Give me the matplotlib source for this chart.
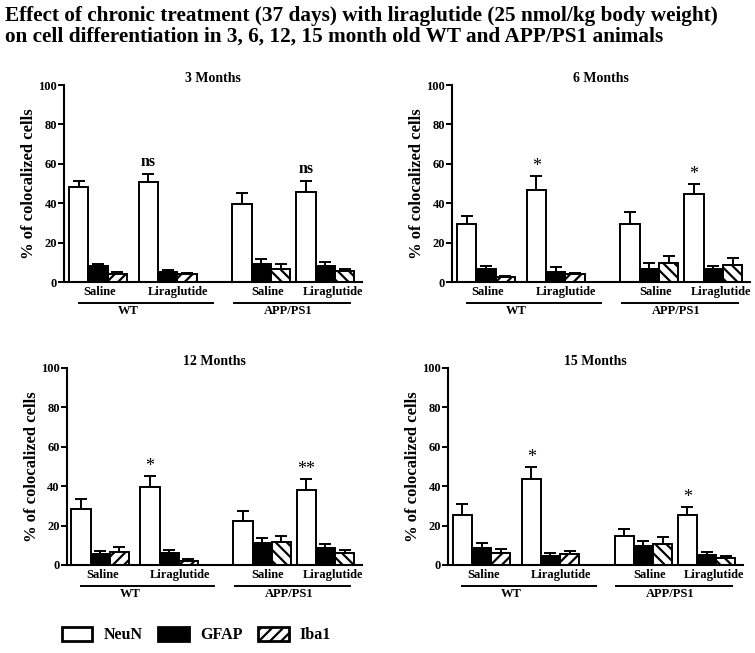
import matplotlib
matplotlib.use("Agg")
import matplotlib.pyplot as plt
from matplotlib.patches import Patch
import numpy as np

plt.rcParams['font.family'] = ['Liberation Serif', 'DejaVu Serif']
plt.rcParams['hatch.linewidth'] = 1.6

panel_titles = ["3 Months", "6 Months", "12 Months", "15 Months"]
group_labels = ["Saline", "Liraglutide", "Saline", "Liraglutide"]
genotypes = ["WT", "APP/PS1"]
series_names = ["NeuN", "GFAP", "Iba1"]

# values per panel: [WT Saline, WT Liraglutide, APP Saline, APP Liraglutide]
neun_mean = [[48.0, 50.8, 39.7, 45.9],
             [29.6, 46.8, 29.7, 44.8],
             [28.6, 39.8, 22.3, 38.2],
             [25.3, 43.6, 14.5, 25.3]]
neun_err = [[3.3, 3.9, 5.4, 5.5],
            [4.0, 7.1, 5.6, 5.0],
            [4.9, 5.2, 5.1, 5.5],
            [5.5, 5.9, 3.9, 4.0]]
gfap_mean = [[7.9, 5.0, 9.3, 8.3],
             [6.6, 5.2, 6.8, 6.6],
             [5.4, 5.9, 11.2, 8.5],
             [8.6, 4.7, 9.4, 5.1]]
gfap_err = [[1.5, 0.9, 2.4, 2.0],
            [1.3, 2.4, 3.0, 1.7],
            [1.9, 1.9, 2.5, 2.2],
            [2.5, 1.4, 2.9, 1.3]]
iba1_mean = [[4.2, 4.0, 6.6, 5.4],
             [2.5, 3.9, 9.6, 8.8],
             [6.8, 2.2, 11.7, 6.3],
             [6.2, 5.4, 10.4, 3.4]]
iba1_err = [[0.7, 0.7, 2.7, 1.4],
            [0.7, 0.7, 3.7, 3.2],
            [2.3, 0.8, 2.9, 1.5],
            [1.9, 1.5, 3.9, 1.3]]
signif = [["", "ns", "", "ns"],
          ["", "*", "", "*"],
          ["", "*", "", "**"],
          ["", "*", "", "*"]]
y_ticks = [0, 20, 40, 60, 80, 100]

fig = plt.figure(figsize=(7.55, 6.53), dpi=100)

axes_rects = [
    [0.0848, 0.5681, 0.3947, 0.3017],
    [0.5987, 0.5681, 0.3947, 0.3017],
    [0.0883, 0.1348, 0.3910, 0.3017],
    [0.5934, 0.1348, 0.3907, 0.3017],
]

group_left = np.array([0.25, 3.85, 8.7, 12.0])
label_pos = [1.85, 5.9, 10.5, 13.9]
bw = 1.0
fs = 9

for p in range(4):
    ax = fig.add_axes(axes_rects[p])
    series = [(neun_mean[p], neun_err[p]), (gfap_mean[p], gfap_err[p]), (iba1_mean[p], iba1_err[p])]
    for gi in range(4):
        for si, (m, e) in enumerate(series):
            x = group_left[gi] + 0.5 + si
            if si == 0:
                fc, hatch = 'white', None
            elif si == 1:
                fc, hatch = 'black', None
            else:
                fc = 'white'
                hatch = '///' if gi < 2 else '\\\\\\'
            ax.bar(x, m[gi], width=bw, color=fc, edgecolor='black', linewidth=1.4,
                   hatch=hatch, zorder=2)
            ax.errorbar(x, m[gi], yerr=[[0], [e[gi]]], fmt='none', ecolor='black',
                        elinewidth=1.4, capsize=4, capthick=1.4, zorder=1)
        s = signif[p][gi]
        if s:
            top = neun_mean[p][gi] + neun_err[p][gi]
            x0 = group_left[gi] + 0.5
            if s == 'ns':
                ax.text(x0, top + 2.0, s, ha='center', va='bottom', fontsize=11.5, fontweight='bold')
            else:
                ax.text(x0, top + 0.5, s, ha='center', va='bottom', fontsize=13)
    ax.set_xlim(0, 15.4)
    ax.set_ylim(0, 100)
    ax.set_yticks(y_ticks)
    ax.set_yticklabels([str(t) for t in y_ticks], fontsize=fs, fontweight='bold')
    ax.set_xticks(label_pos)
    ax.set_xticklabels(group_labels, fontsize=fs, fontweight='bold')
    ax.tick_params(axis='x', length=0, pad=3)
    ax.tick_params(axis='y', length=4, width=1.4, direction='out', pad=1)
    for sp in ['top', 'right']:
        ax.spines[sp].set_visible(False)
    for sp in ['left', 'bottom']:
        ax.spines[sp].set_linewidth(1.5)
    ax.set_ylabel("% of colocalized cells", fontsize=12, fontweight='bold', labelpad=1)
    ax.set_title(panel_titles[p], fontsize=10, fontweight='bold', pad=-4)
    trans = ax.get_xaxis_transform()
    ax.plot([0.75, 7.7], [-0.107, -0.107], color='black', lw=1.4, transform=trans, clip_on=False)
    ax.plot([8.76, 14.8], [-0.107, -0.107], color='black', lw=1.4, transform=trans, clip_on=False)
    ax.text(3.3, -0.118, genotypes[0], transform=trans, ha='center', va='top',
            fontsize=fs, fontweight='bold')
    ax.text(11.6, -0.118, genotypes[1], transform=trans, ha='center', va='top',
            fontsize=fs, fontweight='bold')

fig.text(0.007, 0.991, "Effect of chronic treatment (37 days) with liraglutide (25 nmol/kg body weight)\n"
         "on cell differentiation in 3, 6, 12, 15 month old WT and APP/PS1 animals",
         ha='left', va='top', fontsize=15.3, fontweight='bold', linespacing=1.05)

handles = [Patch(facecolor='white', edgecolor='black', linewidth=2),
           Patch(facecolor='black', edgecolor='black', linewidth=2),
           Patch(facecolor='white', edgecolor='black', linewidth=2, hatch='///')]
fig.legend(handles, series_names, loc='center left', bbox_to_anchor=(0.082, 0.0276),
           ncol=3, frameon=False, prop={'size': 11.5, 'weight': 'bold'},
           handlelength=1.9, handleheight=1.05, columnspacing=1.0, handletextpad=0.7,
           borderpad=0, borderaxespad=0)

fig.savefig("out.png", dpi=100)
